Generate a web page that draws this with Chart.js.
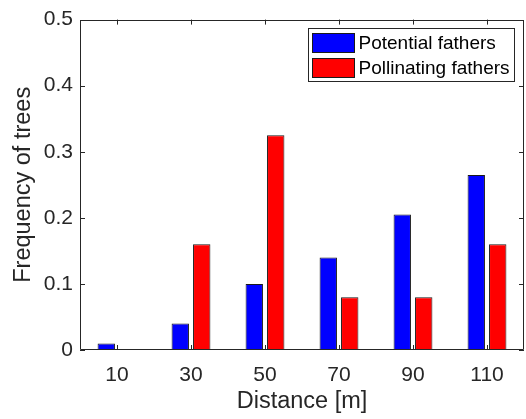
<!DOCTYPE html>
<html>
<head>
<meta charset="utf-8">
<script src="https://cdn.jsdelivr.net/npm/chart.js@4"></script>
<style>
  body { margin: 0; background: #fff; }
</style>
</head>
<body>
<canvas id="myChart" width="526" height="419"></canvas>
<script>
// distance classes and relative frequencies per class
var distances = ['10', '30', '50', '70', '90', '110'];
var potentialFathers = [0.01, 0.04, 0.10, 0.14, 0.205, 0.265];
var pollinatingFathers = [0, 0.16, 0.325, 0.08, 0.08, 0.16];
var yTickValues = [0, 0.1, 0.2, 0.3, 0.4, 0.5];

var axisColor = '#262626';
var fontFamily = '"Liberation Sans", Arial, sans-serif';

// box around the axes, inward ticks on all four sides, and the legend in the corner
var axesFrame = {
	id: 'axesFrame',
	afterDraw: function (chart) {
		var ctx = chart.ctx;
		var a = chart.chartArea;
		var xs = chart.scales.x;
		var ys = chart.scales.y;
		ctx.save();
		ctx.strokeStyle = axisColor;
		ctx.lineWidth = 1;
		ctx.beginPath();
		ctx.rect(Math.round(a.left) + 0.5, Math.round(a.top) + 0.5,
			Math.round(a.right - a.left) - 1, Math.round(a.bottom - a.top) - 1);
		xs.ticks.forEach(function (t, i) {
			var px = Math.round(xs.getPixelForTick(i)) + 0.5;
			ctx.moveTo(px, a.bottom); ctx.lineTo(px, a.bottom - 5);
			ctx.moveTo(px, a.top); ctx.lineTo(px, a.top + 5);
		});
		yTickValues.forEach(function (v) {
			var py = Math.round(ys.getPixelForValue(v)) + 0.5;
			ctx.moveTo(a.left, py); ctx.lineTo(a.left + 5, py);
			ctx.moveTo(a.right, py); ctx.lineTo(a.right - 5, py);
		});
		ctx.stroke();

		// legend
		var bx = 308.5, by = 28.5, bw = 206, bh = 53;
		ctx.fillStyle = '#fff';
		ctx.fillRect(bx, by, bw, bh);
		ctx.strokeRect(bx, by, bw, bh);
		ctx.font = '19px ' + fontFamily;
		ctx.textBaseline = 'middle';
		chart.data.datasets.forEach(function (ds, i) {
			var ry = by + 5 + i * 25;
			ctx.fillStyle = ds.backgroundColor;
			ctx.fillRect(bx + 4, ry, 42, 19);
			ctx.strokeStyle = '#1a1a1a';
			ctx.strokeRect(bx + 4, ry, 42, 19);
			ctx.fillStyle = '#000';
			ctx.fillText(ds.label, bx + 50, ry + 10);
		});
		ctx.restore();
	}
};

var ctx = document.getElementById('myChart').getContext('2d');
var myChart = new Chart(ctx, {
	type: 'bar',
	data: {
		labels: distances,
		datasets: [{
			label: 'Potential fathers',
			data: potentialFathers,
			backgroundColor: '#0000ff',
			borderColor: '#1a1a1a',
			borderWidth: 1,
			borderSkipped: false
		}, {
			label: 'Pollinating fathers',
			data: pollinatingFathers,
			backgroundColor: '#ff0000',
			borderColor: '#1a1a1a',
			borderWidth: 1,
			borderSkipped: false
		}]
	},
	options: {
		responsive: false,
		animation: false,
		layout: { padding: { top: 18, right: 2, left: 0, bottom: 0 } },
		datasets: {
			bar: { categoryPercentage: 0.58, barPercentage: 0.81 }
		},
		plugins: {
			legend: { display: false },
			tooltip: { enabled: false }
		},
		scales: {
			x: {
				grid: { display: false, drawTicks: false },
				border: { display: false },
				ticks: {
					color: axisColor,
					padding: 13,
					font: { family: fontFamily, size: 21 }
				},
				title: {
					display: true,
					text: 'Distance [m]',
					color: axisColor,
					padding: { top: 3, bottom: 3 },
					font: { family: fontFamily, size: 23.5 }
				},
				afterFit: function (scale) { scale.height = 69; }
			},
			y: {
				min: 0,
				max: 0.5,
				grid: { display: false, drawTicks: false },
				border: { display: false },
				afterBuildTicks: function (scale) {
					scale.ticks = yTickValues.map(function (v) { return { value: v }; });
				},
				ticks: {
					color: axisColor,
					padding: 7,
					font: { family: fontFamily, size: 21 },
					callback: function (v) { return v === 0 ? '0' : v.toFixed(1); }
				},
				title: {
					display: true,
					text: 'Frequency of trees',
					color: axisColor,
					padding: { top: 9, bottom: 2 },
					font: { family: fontFamily, size: 23.5 }
				},
				afterFit: function (scale) { scale.width = 80; }
			}
		}
	},
	plugins: [axesFrame]
});
</script>
</body>
</html>
